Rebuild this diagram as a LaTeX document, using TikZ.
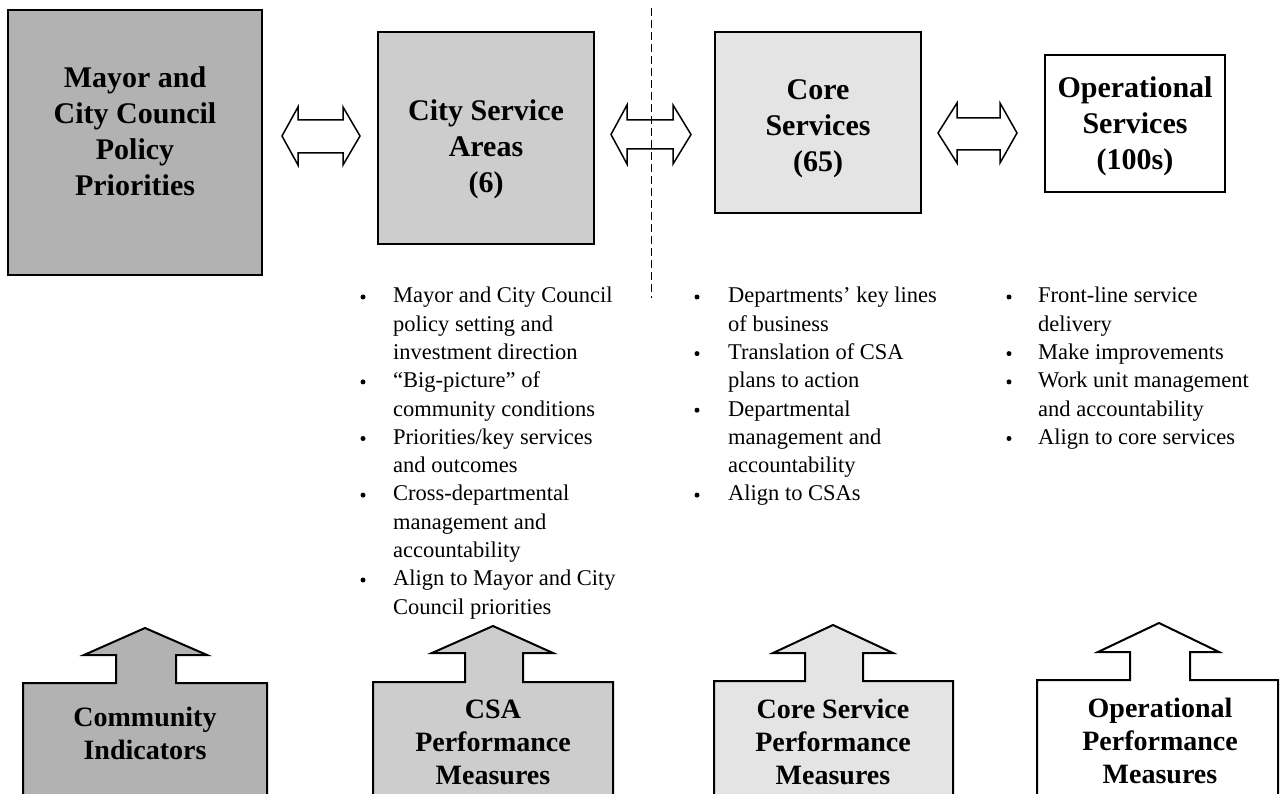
\documentclass[tikz,border=0pt]{standalone}
\usepackage{fontspec}
\setmainfont{Liberation Serif}
\definecolor{gdark}{RGB}{178,178,178}
\definecolor{gmid}{RGB}{205,205,205}
\definecolor{glight}{RGB}{228,228,228}
\begin{document}
\begin{tikzpicture}[x=1pt,y=-1pt,
  boxline/.style={draw=black,line width=2pt},
  dblarrow/.style={draw=black,line width=1.5pt,line join=miter},
  ttl/.style={font=\fontsize{30}{36}\selectfont\bfseries,align=center,inner sep=0pt},
  btl/.style={font=\fontsize{28}{33}\selectfont\bfseries,align=center,inner sep=0pt},
  bul/.style={font=\fontsize{22.5}{28.3}\selectfont,align=left,anchor=north west,inner sep=0pt},
  dot/.style={circle,fill=black,inner sep=0pt,minimum size=5pt}]
\useasboundingbox (0,0) rectangle (1280,794);
\clip (0,0) rectangle (1280,794);
% top boxes
\draw[boxline,fill=gdark] (8,10) rectangle (262,275);
\node[ttl] (t1) at (135,131) {Mayor and\\City Council\\Policy\\Priorities};
\draw[boxline,fill=gmid] (378,32) rectangle (594,244);
\node[ttl] (t2) at (486,149) {City Service\\Areas\\(6)};
\draw[boxline,fill=glight] (715,32) rectangle (921,213);
\node[ttl] (t3) at (818,129) {Core\\Services\\(65)};
\draw[boxline,fill=white] (1045,55) rectangle (1225,192);
\node[ttl] (t4) at (1135,126) {Operational\\Services\\(100s)};
% dashed divider
\coordinate (dtop) at (651,8);
\coordinate (dbot) at (651,298);
\draw[line width=1pt,dash pattern=on 8pt off 4pt] (dtop) -- (dbot);
% double arrows
\draw[dblarrow] (282,136) -- (298,107) -- (298,120) -- (343,120) -- (343,107) -- (360,136) -- (343,165) -- (343,153) -- (298,153) -- (298,165) -- cycle;
\draw[dblarrow] (611,134.5) -- (627,105) -- (627,120) -- (673,120) -- (673,105) -- (691,134.5) -- (673,164) -- (673,149) -- (627,149) -- (627,164) -- cycle;
\draw[dblarrow] (938,133) -- (957,103) -- (957,118) -- (1000,118) -- (1000,103) -- (1017,133) -- (1000,163) -- (1000,150) -- (957,150) -- (957,163) -- cycle;
% bullet column 1
\node[bul] (c1) at (393,287) {Mayor and City Council\\policy setting and\\investment direction\\“Big-picture” of\\community conditions\\Priorities/key services\\and outcomes\\Cross-departmental\\management and\\accountability\\Align to Mayor and City\\Council priorities};
\foreach \yy [count=\i] in {297,381.9,438.5,495.1,580} \node[dot] (b1\i) at (363,\yy) {};
% bullet column 2
\node[bul] (c2) at (728,287) {Departments’ key lines\\of business\\Translation of CSA\\plans to action\\Departmental\\management and\\accountability\\Align to CSAs};
\foreach \yy [count=\i] in {297,353.6,410.2,495.1} \node[dot] (b2\i) at (697,\yy) {};
% bullet column 3
\node[bul] (c3) at (1038,287) {Front-line service\\delivery\\Make improvements\\Work unit management\\and accountability\\Align to core services};
\foreach \yy [count=\i] in {297,353.6,381.9,438.5} \node[dot] (b3\i) at (1009,\yy) {};
% bottom arrow boxes
\draw[boxline,fill=gdark,line join=miter] (23,810) -- (23,683) -- (116,683) -- (116,655) -- (84,655) -- (145,628) -- (207,655) -- (176,655) -- (176,683) -- (267,683) -- (267,810);
\node[btl] (m1) at (145,733) {Community\\Indicators};
\draw[boxline,fill=gmid,line join=miter] (373,810) -- (373,682) -- (465,682) -- (465,653) -- (432,653) -- (493,626) -- (553,653) -- (523,653) -- (523,682) -- (613,682) -- (613,810);
\node[btl] (m2) at (493,742) {CSA\\Performance\\Measures};
\draw[boxline,fill=glight,line join=miter] (714,810) -- (714,681) -- (805,681) -- (805,653) -- (773,653) -- (833,625) -- (893,653) -- (863,653) -- (863,681) -- (953,681) -- (953,810);
\node[btl] (m3) at (833,742) {Core Service\\Performance\\Measures};
\draw[boxline,fill=white,line join=miter] (1037,810) -- (1037,680) -- (1130,680) -- (1130,652) -- (1098,652) -- (1159,623) -- (1219,652) -- (1190,652) -- (1190,680) -- (1278,680) -- (1278,810);
\node[btl] (m4) at (1160,741) {Operational\\Performance\\Measures};
\end{tikzpicture}
\end{document}
